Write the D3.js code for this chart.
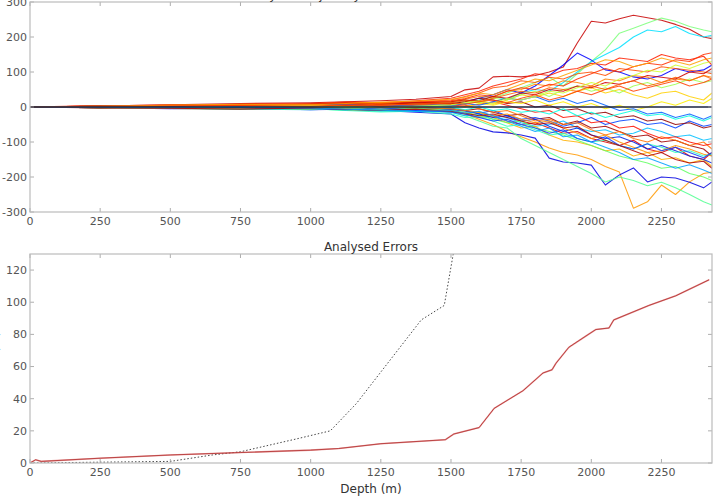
<!DOCTYPE html>
<html>
<head>
<meta charset="utf-8">
<script src="https://cdn.jsdelivr.net/npm/d3@7"></script>
<style>
	body { margin: 0; background: #fff; }
	svg { display: block; font-family: "DejaVu Sans", sans-serif; }
	.tick-label { fill: #555; font-size: 11px; }
	.title { fill: #333; font-size: 12px; }
</style>
</head>
<body>
<div id="chart"></div>
<script>

///////////////////////////////////////////////////////////////////////////
////////////////////////////////// Data ///////////////////////////////////
///////////////////////////////////////////////////////////////////////////

//Depths shared by all realisations (top panel)
var depths = [0, 250, 500, 750, 1000, 1125, 1250, 1375, 1500, 1550, 1600, 1650, 1700, 1750,
			  1800, 1850, 1900, 1950, 2000, 2050, 2100, 2150, 2200, 2250, 2300, 2350, 2400, 2430];

//One row per realisation
var realisations = [
	[0, 3, 6, 10, 12, 15, 18, 22, 30, 49, 54, 86, 88, 86, 90, 100, 114, 183, 245, 240, 252, 262, 255, 248, 236, 222, 200, 195],
	[0, -2, 4, 6, 3, 8, 5, 10, 14, 20, 12, 25, 40, 55, 70, 85, 60, 95, 130, 163, 211, 225, 240, 254, 245, 230, 220, 215],
	[0, 2, -3, 5, 8, 4, 10, 6, 12, 8, 20, 30, 22, 40, 50, 45, 70, 100, 130, 150, 170, 200, 220, 215, 230, 210, 200, 205],
	[0, -1, 2, -4, 3, 6, -2, 5, 10, 15, 25, 35, 50, 40, 60, 90, 120, 154, 134, 106, 100, 86, 80, 90, 110, 100, 106, 120],
	[0, 3, -2, 5, -3, 4, -6, 2, -8, -20, -35, -50, -70, -85, -100, -117, -130, -137, -150, -170, -186, -289, -271, -223, -250, -214, -190, -186],
	[0, -2, -5, -3, -8, -6, -10, -15, -20, -45, -60, -71, -74, -80, -89, -146, -157, -160, -166, -223, -194, -174, -214, -200, -203, -215, -231, -214],
	[0, 2, -3, -6, -4, -10, -8, -12, -15, -25, -40, -55, -60, -90, -110, -130, -150, -170, -190, -214, -200, -210, -225, -215, -231, -250, -271, -280],
	[0, 4, 2, 8, 10, 14, 12, 18, 25, 35, 45, 60, 70, 80, 95, 90, 105, 110, 125, 120, 140, 135, 130, 150, 140, 135, 145, 120],
	[0, -2, 3, 6, 9, 12, 10, 15, 20, 30, 40, 55, 60, 75, 70, 85, 80, 95, 100, 90, 110, 105, 100, 115, 110, 105, 100, 95],
	[0, 1, 5, 3, 7, 10, 13, 9, 16, 22, 30, 28, 45, 50, 65, 60, 75, 70, 60, 80, 75, 90, 85, 70, 80, 75, 90, 85],
	[0, -1, 2, 4, -2, 3, 6, 2, 5, 10, 15, 8, 20, 35, 28, 40, 30, 45, 55, 40, 50, 35, 25, 40, 45, 30, 20, 40],
	[0, 2, -2, -5, -3, -8, -4, -10, -12, -20, -30, -25, -40, -50, -45, -60, -75, -70, -90, -100, -110, -95, -120, -130, -115, -140, -150, -130],
	[0, -3, -1, 3, -2, 4, -5, -2, -6, -10, -5, -15, -25, -20, -35, -30, -50, -40, -60, -55, -70, -85, -80, -100, -95, -110, -120, -140],
	[0, 1, -3, -6, -8, -5, -12, -9, -15, -25, -20, -35, -30, -45, -55, -50, -40, -60, -70, -65, -80, -75, -60, -70, -85, -80, -95, -90],
	[0, -2, 2, -1, -4, 2, -6, -3, -8, -12, -18, -10, -25, -35, -30, -40, -55, -45, -30, -50, -40, -35, -50, -45, -60, -40, -55, -50],
	[0, 2, 5, 2, 6, 8, 4, 10, 8, 15, 12, 25, 20, 35, 45, 30, 50, 60, 45, 55, 40, 60, 70, 55, 65, 80, 70, 75],
	[0, -2, -4, -1, -6, -3, -9, -5, -12, -20, -15, -30, -45, -60, -55, -80, -95, -100, -110, -125, -120, -140, -130, -150, -145, -160, -150, -170],
	[0, 3, 6, 4, 8, 5, 10, 14, 18, 24, 35, 30, 45, 55, 50, 65, 60, 80, 95, 110, 100, 115, 125, 120, 135, 130, 150, 155],
	[0, 1, -2, 3, 0, -4, 2, -5, -3, -10, -20, -30, -25, -40, -35, -55, -70, -60, -80, -90, -85, -100, -120, -110, -125, -140, -150, -160],
	[0, -1, -4, -7, -5, -10, -14, -12, -20, -30, -28, -40, -55, -50, -65, -80, -75, -90, -100, -95, -110, -120, -105, -115, -130, -125, -140, -135],
	[0, 2, 4, 7, 5, 9, 12, 8, 10, 5, -5, -15, -10, -25, -40, -35, -50, -45, -65, -80, -70, -90, -100, -85, -95, -110, -100, -120],
	[0, -2, 1, 4, 7, 3, 8, 12, 9, 15, 25, 20, 10, 15, 0, 5, -10, -5, -20, -15, -30, -25, -40, -35, -50, -45, -60, -55],
	[0, 1, -3, -1, 4, 7, 5, 3, 6, 2, 8, 15, 5, -5, -15, -10, -30, -25, -45, -40, -60, -55, -75, -90, -85, -100, -110, -105],
	[0, 2, 0, -3, 2, -2, 4, 1, 3, 0, 10, 5, 15, 10, 20, 5, 15, 0, 10, -5, 5, -10, 0, 15, 5, 20, 10, 25],
	[0, -1, 3, 1, -2, 1, -4, 2, -1, -8, 0, -10, -5, -15, -10, -20, -5, -25, -15, -30, -20, -10, -25, -20, -35, -25, -40, -30],
	[0, 2, 4, 1, 5, 8, 3, 6, 4, 10, 5, 15, 25, 20, 30, 15, 25, 10, 20, 5, -10, -5, -20, -15, -30, -20, -35, -25],
	[0, -1, -3, 2, -1, -4, 1, -2, -5, -10, -15, -25, -20, -35, -45, -40, -60, -75, -90, -80, -100, -115, -130, -125, -110, -120, -135, -140],
	[0, 3, 1, 5, 8, 11, 7, 12, 15, 20, 18, 30, 25, 40, 35, 50, 45, 60, 55, 70, 65, 75, 90, 85, 80, 100, 95, 110],
	[0, -2, 1, -3, -6, -2, -8, -4, -10, -15, -25, -35, -45, -40, -60, -70, -80, -95, -110, -125, -140, -150, -160, -175, -170, -190, -200, -210],
	[0, 1, 4, 2, 6, 3, 9, 6, 12, 18, 15, 25, 35, 45, 40, 55, 50, 45, 60, 50, 65, 75, 60, 70, 85, 75, 90, 80],
	[0, -1, 1, -2, -5, -8, -4, -10, -14, -20, -30, -40, -35, -50, -60, -75, -65, -90, -100, -85, -110, -120, -105, -125, -115, -130, -145, -130],
	[0, 1, -2, 2, 5, 1, -3, 2, 6, 12, 18, 10, 25, 20, 30, 45, 40, 55, 70, 60, 80, 90, 105, 100, 120, 110, 125, 130],
	[0, -2, -4, -6, -3, -7, -10, -6, -12, -18, -25, -20, -30, -40, -50, -45, -60, -55, -80, -95, -110, -125, -140, -130, -150, -160, -155, -175],
	[0, 2, 5, 8, 6, 10, 14, 17, 22, 28, 40, 35, 50, 65, 80, 75, 90, 105, 120, 135, 130, 115, 125, 140, 130, 120, 135, 140],
	[0, -1, -2, 1, -3, -6, -9, -13, -10, -18, -12, -25, -40, -55, -70, -60, -85, -80, -100, -115, -130, -150, -145, -160, -175, -165, -180, -190],
	[0, 1, 3, 5, 2, 6, 4, 9, 12, 8, 15, 20, 12, 25, 35, 20, 30, 45, 35, 50, 60, 45, 55, 65, 75, 60, 70, 80]
];

//Jet-like colour for each realisation
var realisationColors = ["#c80000", "#7dff7a", "#00e0ff", "#0000ff", "#ff9900", "#0000e0", "#50ff90", "#ff2000",
						 "#ff5000", "#ff8000", "#ffd000", "#e00000", "#a00000", "#00c0ff", "#0040ff", "#a0ff50",
						 "#ffb000", "#ff3000", "#0020e0", "#30ffc0", "#ff7000", "#900000", "#ff1000", "#fff000",
						 "#00ffe0", "#0060ff", "#ff9000", "#d00000", "#60ff60", "#ff6000", "#1040ff", "#d0ff30",
						 "#b00000", "#ffa000", "#00a0ff", "#ff4000"];

//Analysed errors (bottom panel)
var errorDepths = [0, 20, 40, 250, 500, 750, 1000, 1100, 1250, 1480, 1510, 1600, 1654, 1757, 1828, 1860, 1874,
				   1920, 1981, 2016, 2063, 2080, 2205, 2301, 2420];
var errorValues = [0, 2, 1, 3, 5, 6.5, 8, 9, 12, 14.5, 18, 22, 34, 45, 56, 58, 62, 72, 79, 83, 84, 89, 98, 104, 114];

var refDepths = [0, 250, 500, 650, 750, 950, 1070, 1163, 1394, 1476, 1508, 1530];
var refValues = [0, 0.5, 1, 5, 7, 15, 20, 37, 89, 98, 130, 160];

var xTicks = [0, 250, 500, 750, 1000, 1250, 1500, 1750, 2000, 2250];
var topYTicks = [-300, -200, -100, 0, 100, 200, 300];
var bottomYTicks = [0, 20, 40, 60, 80, 100, 120];

///////////////////////////////////////////////////////////////////////////
//////////////////// Set up and initiate svg containers ///////////////////
///////////////////////////////////////////////////////////////////////////

var width = 717, height = 497;

var svg = d3.select("#chart").append("svg")
	.attr("width", width)
	.attr("height", height);

var defs = svg.append("defs");

var topBox = { left: 30, right: 712, top: 2, bottom: 212 };
var botBox = { left: 30, right: 712, top: 254, bottom: 463 };

var xTop = d3.scaleLinear().domain([0, 2430]).range([topBox.left, topBox.right]);
var yTop = d3.scaleLinear().domain([-300, 300]).range([topBox.bottom, topBox.top]);
var xBot = d3.scaleLinear().domain([0, 2430]).range([botBox.left, botBox.right]);
var yBot = d3.scaleLinear().domain([0, 130]).range([botBox.bottom, botBox.top]);

function addClip(id, box) {
	defs.append("clipPath").attr("id", id)
		.append("rect")
		.attr("x", box.left).attr("y", box.top)
		.attr("width", box.right - box.left).attr("height", box.bottom - box.top);
}
addClip("clip-top", topBox);
addClip("clip-bot", botBox);

//Frame, inward ticks on all four sides and labels, matplotlib style
function drawFrame(box, x, y, xt, yt) {
	var g = svg.append("g");
	var tick = 4;

	xt.forEach(function(d) {
		g.append("line").attr("x1", x(d)).attr("x2", x(d))
			.attr("y1", box.bottom).attr("y2", box.bottom - tick)
			.attr("stroke", "#999").attr("stroke-width", 0.8);
		g.append("line").attr("x1", x(d)).attr("x2", x(d))
			.attr("y1", box.top).attr("y2", box.top + tick)
			.attr("stroke", "#999").attr("stroke-width", 0.8);
		g.append("text").attr("class", "tick-label")
			.attr("x", x(d)).attr("y", box.bottom + 13)
			.attr("text-anchor", "middle")
			.text(d);
	});

	yt.forEach(function(d) {
		g.append("line").attr("x1", box.left).attr("x2", box.left + tick)
			.attr("y1", y(d)).attr("y2", y(d))
			.attr("stroke", "#999").attr("stroke-width", 0.8);
		g.append("line").attr("x1", box.right).attr("x2", box.right - tick)
			.attr("y1", y(d)).attr("y2", y(d))
			.attr("stroke", "#999").attr("stroke-width", 0.8);
		g.append("text").attr("class", "tick-label")
			.attr("x", box.left - 3).attr("y", y(d))
			.attr("dy", "0.35em")
			.attr("text-anchor", "end")
			.text(d);
	});

	g.append("rect")
		.attr("x", box.left).attr("y", box.top)
		.attr("width", box.right - box.left).attr("height", box.bottom - box.top)
		.attr("fill", "none")
		.attr("stroke", "#bbb")
		.attr("stroke-width", 1.2);
}

///////////////////////////////////////////////////////////////////////////
//////////////////////////////// Top panel ////////////////////////////////
///////////////////////////////////////////////////////////////////////////

var topLine = d3.line()
	.x(function(d, i) { return xTop(depths[i]); })
	.y(function(d) { return yTop(d); });

var topG = svg.append("g").attr("clip-path", "url(#clip-top)");

topG.selectAll(".realisation")
	.data(realisations)
	.enter().append("path")
	.attr("class", "realisation")
	.attr("d", topLine)
	.attr("fill", "none")
	.attr("stroke", function(d, i) { return realisationColors[i % realisationColors.length]; })
	.attr("stroke-width", 1.1)
	.attr("stroke-opacity", 0.85)
	.attr("stroke-linejoin", "round");

//Zero line
topG.append("line")
	.attr("x1", xTop(0)).attr("x2", xTop(2430))
	.attr("y1", yTop(0)).attr("y2", yTop(0))
	.attr("stroke", "#1c2440")
	.attr("stroke-width", 1.4);

drawFrame(topBox, xTop, yTop, xTicks, topYTicks);

//Title of top panel (mostly cut off by the window edge, as in the original)
svg.append("text").attr("class", "title")
	.attr("x", 371).attr("y", -1)
	.attr("text-anchor", "middle")
	.text("Analysed Trajectory Ensemble Realisations");

///////////////////////////////////////////////////////////////////////////
/////////////////////////////// Bottom panel //////////////////////////////
///////////////////////////////////////////////////////////////////////////

var botG = svg.append("g").attr("clip-path", "url(#clip-bot)");

var refLine = d3.line()
	.x(function(d, i) { return xBot(refDepths[i]); })
	.y(function(d) { return yBot(d); });

botG.append("path")
	.attr("d", refLine(refValues))
	.attr("fill", "none")
	.attr("stroke", "#333")
	.attr("stroke-width", 0.9)
	.attr("stroke-dasharray", "1.5,2");

var errLine = d3.line()
	.x(function(d, i) { return xBot(errorDepths[i]); })
	.y(function(d) { return yBot(d); });

botG.append("path")
	.attr("d", errLine(errorValues))
	.attr("fill", "none")
	.attr("stroke", "#e07070")
	.attr("stroke-width", 1.6)
	.attr("stroke-opacity", 0.7);

botG.append("path")
	.attr("d", errLine(errorValues))
	.attr("fill", "none")
	.attr("stroke", "#a82020")
	.attr("stroke-width", 0.7);

drawFrame(botBox, xBot, yBot, xTicks, bottomYTicks);

svg.append("text").attr("class", "title")
	.attr("x", 371).attr("y", 251)
	.attr("text-anchor", "middle")
	.text("Analysed Errors");

svg.append("text").attr("class", "title")
	.attr("x", 371).attr("y", 493)
	.attr("text-anchor", "middle")
	.text("Depth (m)");

//Y label (cut off by the window edge, as in the original)
svg.append("text").attr("class", "title")
	.attr("transform", "translate(-1," + ((botBox.top + botBox.bottom) / 2) + ") rotate(-90)")
	.attr("text-anchor", "middle")
	.text("Error (m)");

</script>
</body>
</html>
